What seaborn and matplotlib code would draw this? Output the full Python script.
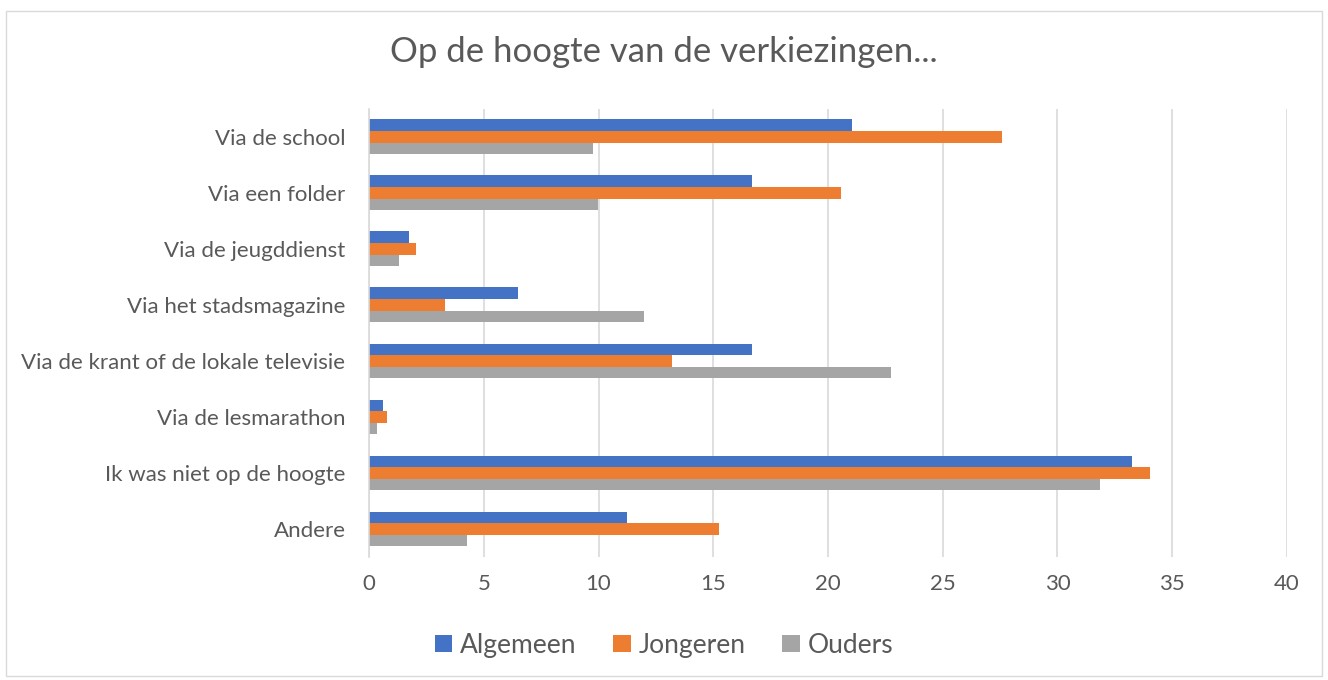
import matplotlib

matplotlib.use("Agg")
import matplotlib.pyplot as plt
import matplotlib.patches as patches
import pandas as pd
import seaborn as sns

# Data (percentages)
bronnen = [
    "Via de school",
    "Via een folder",
    "Via de jeugddienst",
    "Via het stadsmagazine",
    "Via de krant of de lokale televisie",
    "Via de lesmarathon",
    "Ik was niet op de hoogte",
    "Andere",
]
groepen = ["Algemeen", "Jongeren", "Ouders"]
algemeen = [21.05, 16.7, 1.76, 6.5, 16.7, 0.62, 33.25, 11.22]
jongeren = [27.6, 20.55, 2.03, 3.3, 13.2, 0.78, 34.05, 15.25]
ouders = [9.75, 9.98, 1.3, 12.0, 22.73, 0.34, 31.87, 4.28]
x_ticks = [0, 5, 10, 15, 20, 25, 30, 35, 40]

KLEUREN = ["#4472C4", "#ED7D31", "#A5A5A5"]
TEKST = "#595959"
RASTER = "#D9D9D9"

sns.set_theme(style="white")
plt.rcParams["font.family"] = ["Lato", "DejaVu Sans"]

df = pd.DataFrame({
    "bron": bronnen * 3,
    "pct": algemeen + jongeren + ouders,
    "groep": [g for g in groepen for _ in bronnen],
})

fig = plt.figure(figsize=(13.28, 6.80), dpi=100)
ax = fig.add_axes([0.2779, 0.181, 0.6912, 0.659])

sns.barplot(data=df, y="bron", x="pct", hue="groep", orient="h",
            palette=KLEUREN, width=0.62, ax=ax, saturation=1,
            edgecolor="none")

ax.set_xlim(0, 40)
ax.set_xticks(x_ticks)
ax.set_xlabel("")
ax.set_ylabel("")
ax.grid(axis="x", color=RASTER, linewidth=1.2)
ax.set_axisbelow(True)
for side in ["top", "right", "bottom"]:
    ax.spines[side].set_visible(False)
ax.spines["left"].set_color(RASTER)
ax.spines["left"].set_linewidth(1.2)
ax.tick_params(axis="x", length=0, pad=12, labelsize=16, labelcolor=TEKST)
ax.tick_params(axis="y", length=0, pad=17, labelsize=16, labelcolor=TEKST)

handles, labels = ax.get_legend_handles_labels()
ax.get_legend().remove()
fig.legend(handles, labels, loc="center", bbox_to_anchor=(0.5, 0.051),
           ncol=3, frameon=False, fontsize=19, labelcolor=TEKST,
           handlelength=0.65, handleheight=0.65, handletextpad=0.3,
           columnspacing=1.4)

fig.text(0.5, 0.923, "Op de hoogte van de verkiezingen...", ha="center",
         va="center", fontsize=25, color=TEKST)

fig.patches.append(patches.Rectangle((0.0045, 0.006), 0.991, 0.978,
                                     transform=fig.transFigure, fill=False,
                                     edgecolor=RASTER, linewidth=1))

fig.savefig("out.png", dpi=100)
plt.close(fig)
